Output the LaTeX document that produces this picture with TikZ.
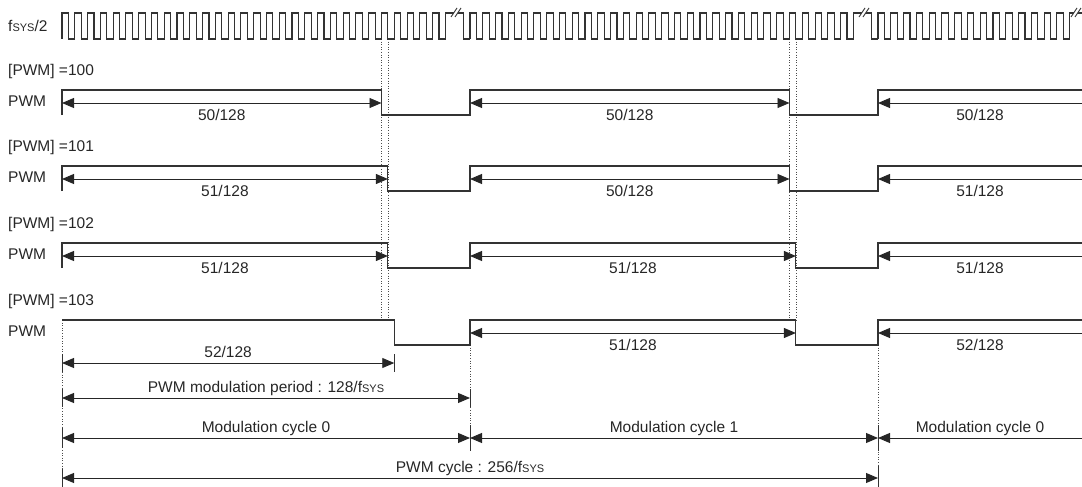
\documentclass[tikz,border=0pt]{standalone}
\usepackage{fontspec}
\setmainfont{Liberation Sans}
\usetikzlibrary{arrows.meta}

\newcommand{\fsys}{f{\fontsize{11}{11}\selectfont SYS}}

\begin{document}
\begin{tikzpicture}[x=1pt, y=-1pt,
    >={Triangle[length=12pt,width=10pt]},
    wave/.style={draw=black!80, line width=1.1pt},
    dimline/.style={draw=black!85, line width=0.9pt, <->},
    dimleft/.style={draw=black!85, line width=0.9pt, <-},
    endmark/.style={draw=black!80, line width=0.9pt},
    guide/.style={draw=black!70, line width=0.6pt, dotted},
    lbl/.style={font=\fontsize{15.5}{18}\selectfont, text=black!85, inner sep=0pt, anchor=base}]

    \useasboundingbox (0,0) rectangle (1082,487);
    \pgfmathsetmacro\clk{12.78}

    % Draw Guides
    \foreach \g in {0, 408}{
        \draw[guide] ({62+\g+25*\clk},39) -- ({62+\g+25*\clk},320);
        \draw[guide] ({62+\g+25.5*\clk},39) -- ({62+\g+25.5*\clk},320);
    }
    \draw[guide] (62,320) -- (62,487);
    \draw[guide] (470,345) -- (470,451);
    \draw[guide] (878,345) -- (878,487);

    % Draw Clock
    \node[lbl, anchor=base west] (clklbl) at (8,31.5) {\fsys/2};
    \foreach \s in {62, 470}{
        \draw[wave] (\s,39) \foreach \k in {1,...,30}{ -- ++(0,-26) -- ++(\clk/2,0) -- ++(0,26) -- ++(\clk/2,0) }
            -- ++(0,-26) -- ({\s+408-\clk/2},13) -- ({\s+408-\clk/2},39) -- ({\s+408},39);
    }
    \draw[wave] (878,39) \foreach \k in {1,...,15}{ -- ++(0,-26) -- ++(\clk/2,0) -- ++(0,26) -- ++(\clk/2,0) }
        -- ++(0,-26) -- (1082,13);
    \foreach \bx in {451, 859, 1071}{
        \fill[white] (\bx,17) -- (\bx+4,17) -- (\bx+10,8) -- (\bx+6,8) -- cycle;
        \draw[endmark] (\bx,17) -- (\bx+6,8);
        \draw[endmark] (\bx+4,17) -- (\bx+10,8);
    }

    % Draw PWM waves
    \foreach \h/\v/\a/\b/\c [count=\i] in {90/100/50/50/50, 166/101/51/50/51, 243/102/51/51/51}{
        \pgfmathsetmacro\fa{62+\a*\clk/2}
        \pgfmathsetmacro\fb{470+\b*\clk/2}
        \node[lbl, anchor=base west] (val\i) at (8,\h-14.5) {[PWM] =\v};
        \node[lbl, anchor=base west] (pwm\i) at (8,\h+16.5) {PWM};
        \draw[wave] (62,\h+25) -- (62,\h) -- (\fa,\h) -- (\fa,\h+25) -- (470,\h+25) -- (470,\h)
            -- (\fb,\h) -- (\fb,\h+25) -- (878,\h+25) -- (878,\h) -- (1082,\h);
        \draw[dimline] (62,\h+13) -- (\fa,\h+13);
        \draw[dimline] (470,\h+13) -- (\fb,\h+13);
        \draw[dimleft] (878,\h+13) -- (1082,\h+13);
        \node[lbl] (w\i-0) at ({(62+\fa)/2},\h+30.5) {\a/128};
        \node[lbl] (w\i-1) at ({(470+\fb)/2},\h+30.5) {\b/128};
        \node[lbl] (w\i-2) at (980,\h+30.5) {\c/128};
    }

    % Last PWM wave
    \pgfmathsetmacro\fa{62+52*\clk/2}
    \pgfmathsetmacro\fb{470+51*\clk/2}
    \node[lbl, anchor=base west] (val4) at (8,305.5) {[PWM] =103};
    \node[lbl, anchor=base west] (pwm4) at (8,336.5) {PWM};
    \draw[wave] (62,320) -- (\fa,320) -- (\fa,345) -- (470,345) -- (470,320)
        -- (\fb,320) -- (\fb,345) -- (878,345) -- (878,320) -- (1082,320);
    \draw[dimline] (470,333) -- (\fb,333);
    \draw[dimleft] (878,333) -- (1082,333);
    \node[lbl] (w4-1) at ({(470+\fb)/2},350.5) {51/128};
    \node[lbl] (w4-2) at (980,350.5) {52/128};

    % Draw Periods
    \draw[dimline] (62,363) -- (\fa,363);
    \draw[endmark] (62,354) -- (62,372);
    \draw[endmark] (\fa,354) -- (\fa,372);
    \node[lbl] (hi103) at ({(62+\fa)/2},357) {52/128};

    \draw[dimline] (62,398) -- (470,398);
    \draw[endmark] (62,389) -- (62,407);
    \draw[endmark] (470,389) -- (470,407);
    \node[lbl] (modper) at (266,392) {PWM modulation period : 128/\fsys};

    \draw[dimline] (62,438) -- (470,438);
    \draw[dimline] (470,438) -- (878,438);
    \draw[dimleft] (878,438) -- (1082,438);
    \draw[endmark] (62,428) -- (62,448);
    \draw[endmark] (470,425) -- (470,451);
    \draw[endmark] (878,425) -- (878,451);
    \node[lbl] (cyc0) at (266,432) {Modulation cycle 0};
    \node[lbl] (cyc1) at (674,432) {Modulation cycle 1};
    \node[lbl] (cyc2) at (980,432) {Modulation cycle 0};

    \draw[dimline] (62,478) -- (878,478);
    \draw[endmark] (62,469) -- (62,487);
    \draw[endmark] (878,466) -- (878,487);
    \node[lbl] (pwmcyc) at (470,472) {PWM cycle : 256/\fsys};
\end{tikzpicture}
\end{document}
